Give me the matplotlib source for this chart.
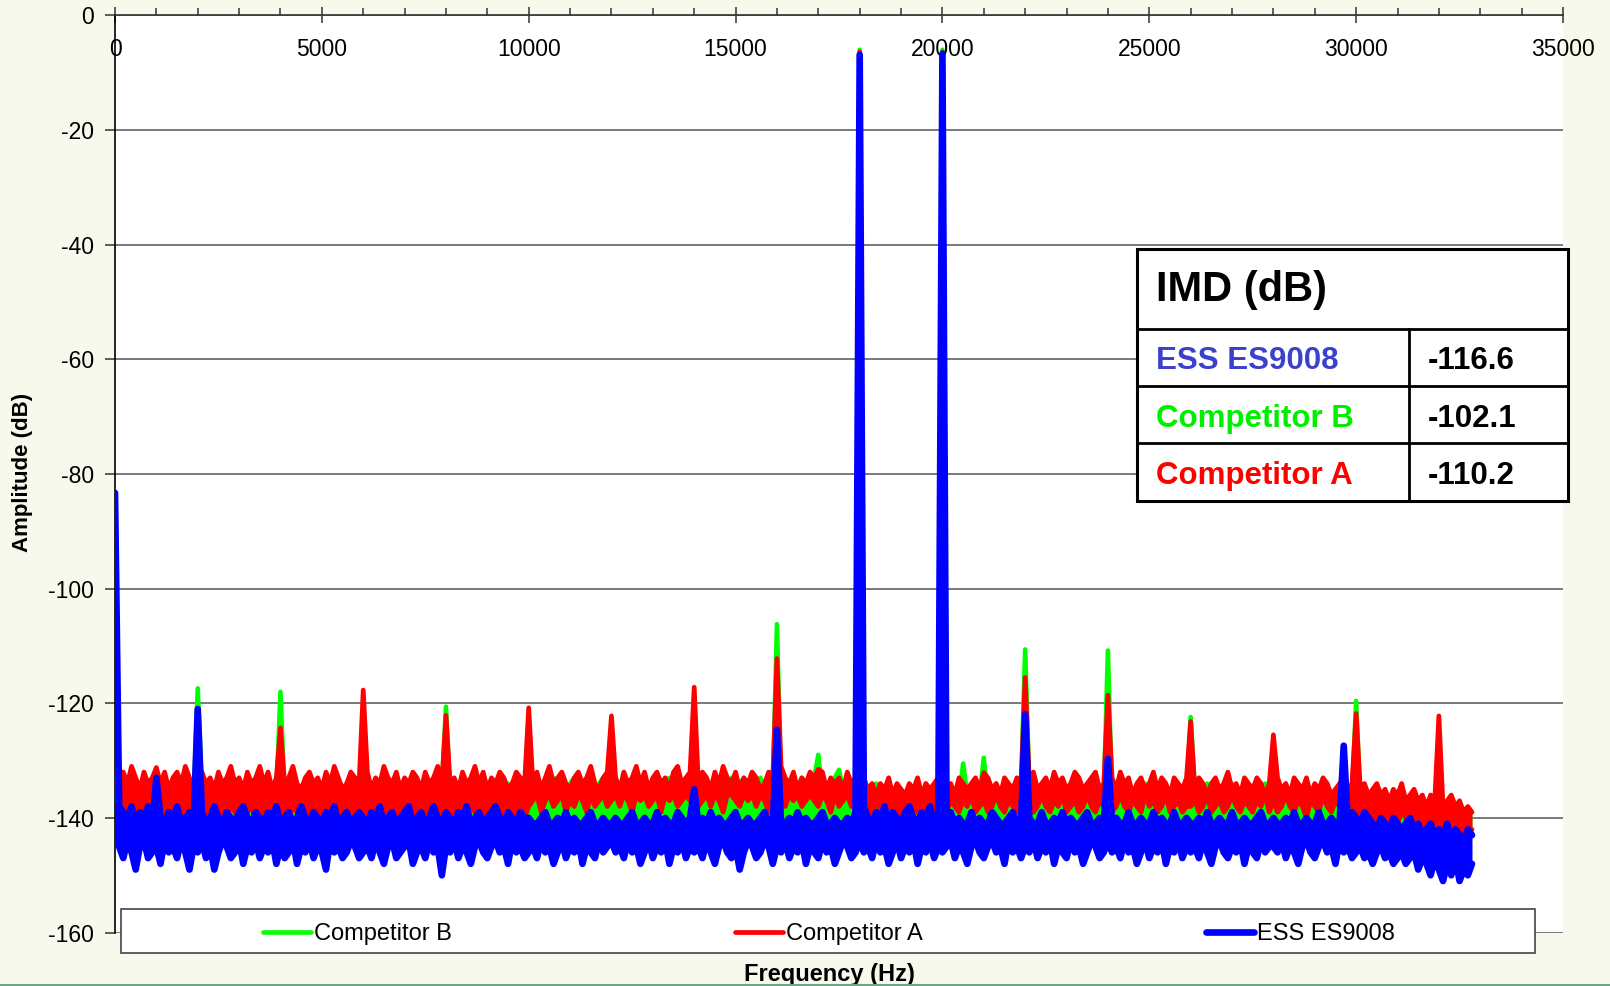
import numpy as np
import matplotlib
matplotlib.use("Agg")
import matplotlib.pyplot as plt
from matplotlib.patches import Rectangle
from matplotlib.lines import Line2D
from matplotlib.ticker import MultipleLocator

plt.rcParams['font.family'] = ['Liberation Sans', 'DejaVu Sans']
plt.rcParams['axes.unicode_minus'] = False

# ---------------- data ----------------
series_names = ['Competitor B', 'Competitor A', 'ESS ES9008']
series_colors = ['#00ff00', '#ff0000', '#0000ff']

imd_labels = ['ESS ES9008', 'Competitor B', 'Competitor A']
imd_values = ['-116.6', '-102.1', '-110.2']
imd_colors = ['#3b41cc', '#00ee00', '#ff0000']

bin_hz = 100  # spacing of the read-off envelope points (Hz), starting at 0 Hz

# Competitor B: upper / lower edge of the noise band (dB)
b_upper = [
    -132, -135, -136, -134, -137, -135, -136, -134, -137, -136, -135, -137, -134, -136, -135, -137, -136, -134, -135, -137,
    -136, -135, -137, -134, -136, -135, -137, -136, -134, -135, -137, -136, -135, -134, -137, -136, -135, -137, -134, -136,
    -135, -137, -136, -134, -135, -137, -136, -135, -134, -137, -136, -135, -137, -134, -136, -135, -137, -136, -134, -135,
    -136, -135, -137, -134, -136, -137, -135, -134, -136, -137, -135, -136, -134, -137, -135, -136, -134, -137, -136, -135,
    -135, -136, -134, -137, -135, -136, -134, -135, -137, -136, -135, -134, -136, -135, -137, -134, -136, -135, -134, -136,
    -134, -135, -133, -136, -134, -135, -133, -134, -136, -135, -134, -133, -135, -134, -136, -133, -135, -134, -133, -135,
    -134, -133, -135, -134, -136, -133, -134, -135, -133, -136, -134, -133, -135, -134, -133, -136, -134, -135, -133, -134,
    -135, -134, -133, -136, -134, -135, -133, -134, -136, -133, -135, -134, -133, -135, -136, -134, -133, -135, -134, -136,
    -134, -135, -133, -136, -134, -135, -133, -134, -135, -133, -134, -136, -134, -135, -133, -134, -135, -136, -134, -135,
    -136, -135, -137, -136, -134, -136, -137, -135, -136, -137, -135, -136, -137, -135, -136, -137, -134, -136, -135, -137,
    -136, -137, -135, -136, -137, -135, -136, -134, -137, -136, -135, -137, -136, -134, -136, -137, -135, -136, -137, -135,
    -136, -135, -137, -136, -134, -136, -137, -135, -136, -134, -137, -136, -135, -137, -136, -134, -136, -137, -135, -136,
    -135, -137, -136, -134, -136, -137, -135, -136, -137, -134, -136, -135, -137, -136, -134, -137, -136, -135, -137, -136,
    -136, -135, -137, -136, -134, -137, -136, -135, -137, -136, -134, -136, -137, -135, -136, -137, -135, -136, -134, -137,
    -135, -137, -136, -134, -136, -137, -135, -136, -138, -135, -136, -137, -134, -136, -137, -135, -136, -138, -135, -136,
    -136, -137, -138, -136, -137, -138, -136, -137, -139, -137, -138, -136, -137, -139, -138, -137, -139, -138, -137, -139,
    -138, -139, -138, -140, -139, -138, -140, -139, -139,
]
b_lower = [
    -138, -141, -140, -142, -141, -140, -142, -141, -140, -142, -141, -140, -141, -142, -140, -141, -142, -140, -141, -142,
    -141, -140, -142, -141, -140, -142, -141, -140, -141, -142, -140, -141, -142, -140, -141, -142, -141, -140, -142, -141,
    -140, -142, -141, -140, -142, -141, -140, -141, -142, -140, -141, -142, -140, -141, -142, -141, -140, -142, -141, -140,
    -142, -141, -140, -142, -141, -140, -141, -142, -140, -141, -142, -140, -141, -142, -141, -140, -142, -141, -140, -142,
    -141, -140, -142, -141, -140, -142, -141, -140, -141, -142, -140, -141, -142, -140, -141, -142, -141, -140, -142, -141,
    -140, -141, -142, -140, -141, -142, -141, -140, -142, -141, -140, -141, -142, -140, -141, -142, -140, -141, -142, -141,
    -141, -140, -142, -141, -140, -142, -141, -140, -141, -142, -140, -141, -142, -140, -141, -142, -141, -140, -142, -141,
    -140, -142, -141, -140, -142, -141, -140, -141, -142, -140, -141, -142, -140, -141, -142, -141, -140, -142, -141, -140,
    -142, -141, -140, -142, -141, -140, -141, -142, -140, -141, -142, -140, -141, -142, -141, -140, -142, -141, -140, -142,
    -141, -140, -142, -141, -140, -142, -141, -140, -141, -142, -140, -141, -142, -140, -141, -142, -141, -140, -142, -141,
    -140, -141, -142, -140, -141, -142, -141, -140, -142, -141, -140, -141, -142, -140, -141, -142, -140, -141, -142, -141,
    -141, -140, -142, -141, -140, -142, -141, -140, -141, -142, -140, -141, -142, -140, -141, -142, -141, -140, -142, -141,
    -140, -142, -141, -140, -142, -141, -140, -141, -142, -140, -141, -142, -140, -141, -142, -141, -140, -142, -141, -140,
    -142, -141, -140, -142, -141, -140, -141, -142, -140, -141, -142, -140, -141, -142, -141, -140, -142, -141, -140, -142,
    -141, -140, -142, -141, -140, -142, -141, -140, -141, -142, -140, -141, -142, -140, -141, -142, -141, -140, -142, -141,
    -141, -142, -143, -141, -142, -143, -142, -141, -143, -142, -141, -143, -142, -143, -141, -142, -143, -142, -143, -142,
    -143, -142, -143, -144, -142, -143, -144, -143, -143,
]

# Competitor A: upper / lower edge of the noise band (dB)
a_upper = [
    -131, -133, -132, -134, -131, -133, -135, -132, -134, -133, -131, -134, -132, -135, -133, -132, -134, -131, -133, -135,
    -133, -132, -134, -133, -135, -132, -134, -133, -131, -134, -133, -135, -132, -134, -133, -131, -134, -132, -135, -133,
    -132, -134, -133, -131, -134, -135, -133, -132, -134, -133, -135, -132, -134, -131, -133, -135, -134, -132, -133, -134,
    -133, -132, -135, -133, -134, -131, -133, -134, -132, -135, -133, -134, -132, -133, -135, -132, -134, -133, -131, -134,
    -132, -134, -133, -135, -132, -134, -133, -131, -134, -132, -135, -133, -134, -132, -133, -135, -134, -132, -133, -134,
    -133, -134, -132, -135, -133, -131, -134, -133, -132, -134, -135, -133, -132, -134, -133, -131, -134, -135, -133, -132,
    -134, -133, -135, -132, -134, -133, -131, -134, -132, -135, -133, -132, -134, -133, -135, -132, -131, -134, -133, -132,
    -133, -134, -132, -133, -135, -132, -134, -131, -133, -134, -132, -135, -133, -134, -132, -133, -135, -134, -132, -133,
    -132, -131, -133, -134, -132, -135, -133, -134, -132, -133, -134, -132, -135, -133, -134, -133, -135, -132, -134, -133,
    -134, -133, -135, -134, -136, -134, -135, -133, -136, -134, -135, -136, -134, -135, -133, -136, -134, -135, -134, -133,
    -134, -135, -134, -136, -133, -134, -135, -134, -133, -135, -134, -133, -135, -134, -136, -133, -134, -135, -133, -134,
    -133, -134, -132, -135, -134, -133, -135, -132, -134, -133, -135, -134, -132, -133, -135, -134, -133, -132, -135, -134,
    -134, -133, -135, -132, -134, -133, -136, -134, -133, -135, -134, -132, -135, -133, -134, -136, -133, -134, -135, -133,
    -134, -135, -133, -134, -136, -134, -133, -135, -134, -132, -135, -134, -136, -133, -134, -135, -133, -134, -136, -134,
    -134, -133, -135, -134, -136, -133, -134, -135, -133, -136, -134, -135, -133, -134, -136, -135, -134, -133, -135, -134,
    -134, -135, -134, -136, -135, -134, -136, -135, -137, -135, -136, -134, -137, -136, -135, -137, -136, -138, -136, -137,
    -136, -138, -137, -136, -138, -137, -139, -138, -139,
]
a_lower = [
    -136, -139, -140, -138, -141, -139, -140, -138, -141, -140, -139, -141, -138, -140, -139, -141, -140, -138, -139, -141,
    -140, -139, -141, -138, -140, -139, -141, -140, -138, -139, -141, -140, -139, -138, -141, -140, -139, -141, -138, -140,
    -139, -141, -140, -138, -139, -141, -140, -139, -138, -141, -140, -139, -141, -138, -140, -139, -141, -140, -138, -139,
    -140, -139, -141, -138, -140, -141, -139, -138, -140, -141, -139, -140, -138, -141, -139, -140, -138, -141, -140, -139,
    -139, -140, -138, -141, -139, -140, -138, -139, -141, -140, -139, -138, -140, -139, -141, -138, -140, -139, -138, -140,
    -138, -137, -136, -139, -137, -136, -138, -137, -136, -139, -137, -138, -136, -137, -139, -136, -138, -137, -136, -138,
    -137, -136, -138, -136, -137, -139, -136, -137, -136, -138, -137, -136, -139, -136, -137, -136, -138, -137, -136, -137,
    -136, -138, -137, -136, -138, -136, -137, -139, -136, -136, -137, -138, -136, -137, -136, -138, -136, -137, -139, -136,
    -137, -136, -138, -136, -137, -136, -138, -137, -136, -137, -138, -136, -137, -139, -136, -138, -137, -136, -138, -137,
    -139, -138, -140, -139, -137, -139, -140, -138, -139, -141, -138, -139, -140, -138, -139, -140, -137, -139, -138, -140,
    -138, -139, -137, -138, -139, -137, -138, -136, -139, -138, -137, -139, -138, -136, -138, -139, -137, -138, -139, -137,
    -138, -137, -139, -138, -136, -138, -139, -137, -138, -136, -139, -138, -137, -139, -138, -136, -138, -139, -137, -138,
    -137, -139, -138, -136, -138, -139, -137, -138, -139, -136, -138, -137, -139, -138, -136, -139, -138, -137, -139, -138,
    -138, -137, -139, -138, -136, -139, -138, -137, -139, -138, -136, -138, -139, -137, -138, -139, -137, -138, -136, -139,
    -137, -139, -138, -136, -138, -139, -137, -138, -140, -137, -138, -139, -136, -138, -139, -137, -138, -140, -137, -138,
    -139, -140, -141, -139, -140, -141, -139, -140, -142, -140, -141, -139, -140, -142, -141, -140, -142, -141, -140, -142,
    -141, -142, -141, -143, -142, -141, -143, -142, -142,
]

# ESS ES9008: upper / lower edge of the noise band (dB)
ess_upper = [
    -136, -138, -139, -140, -138, -141, -139, -140, -138, -141, -139, -140, -141, -139, -140, -138, -141, -140, -139, -141,
    -140, -139, -141, -140, -138, -140, -141, -139, -140, -141, -139, -138, -140, -141, -139, -140, -141, -139, -140, -138,
    -141, -140, -139, -141, -140, -138, -140, -141, -139, -140, -141, -139, -140, -138, -141, -140, -139, -141, -140, -139,
    -140, -141, -139, -140, -138, -141, -140, -139, -141, -140, -139, -138, -141, -140, -139, -141, -140, -138, -140, -141,
    -139, -140, -141, -139, -140, -138, -141, -140, -139, -141, -140, -139, -138, -140, -141, -139, -140, -141, -139, -140,
    -140, -141, -141, -140, -139, -141, -141, -140, -141, -139, -141, -140, -141, -141, -140, -139, -141, -141, -140, -141,
    -141, -140, -141, -141, -140, -139, -141, -141, -140, -141, -141, -139, -141, -140, -141, -141, -139, -140, -141, -140,
    -141, -141, -140, -141, -139, -141, -140, -141, -141, -140, -139, -141, -141, -140, -141, -141, -140, -139, -141, -141,
    -140, -141, -141, -140, -141, -139, -141, -140, -141, -141, -140, -139, -141, -141, -140, -141, -141, -140, -141, -139,
    -139, -138, -140, -141, -139, -140, -138, -141, -139, -140, -141, -139, -138, -140, -141, -139, -140, -138, -141, -140,
    -140, -141, -139, -141, -140, -141, -141, -139, -141, -140, -141, -141, -139, -140, -141, -141, -140, -139, -141, -141,
    -141, -140, -141, -141, -139, -141, -141, -140, -141, -139, -141, -140, -141, -141, -140, -139, -141, -141, -140, -141,
    -141, -141, -140, -141, -141, -139, -141, -141, -140, -141, -141, -139, -141, -140, -141, -141, -139, -141, -141, -140,
    -141, -141, -140, -141, -139, -141, -141, -140, -141, -141, -139, -141, -141, -140, -141, -141, -140, -139, -141, -141,
    -140, -141, -141, -140, -141, -139, -141, -141, -140, -141, -141, -139, -141, -141, -140, -141, -141, -140, -141, -139,
    -140, -141, -139, -140, -141, -142, -140, -141, -142, -140, -141, -142, -141, -140, -142, -141, -143, -142, -141, -143,
    -142, -143, -141, -144, -142, -143, -144, -142, -143,
]
ess_lower = [
    -138, -145, -147, -144, -146, -149, -145, -144, -147, -146, -145, -148, -144, -146, -145, -147, -144, -146, -149, -145,
    -146, -144, -147, -145, -149, -146, -144, -145, -147, -146, -144, -148, -145, -146, -144, -147, -145, -146, -144, -148,
    -145, -147, -146, -144, -148, -145, -146, -144, -147, -145, -146, -149, -144, -146, -145, -147, -146, -144, -145, -147,
    -146, -145, -147, -144, -146, -148, -145, -144, -147, -146, -145, -144, -148, -146, -145, -147, -144, -146, -145, -150,
    -145, -146, -144, -147, -145, -146, -148, -145, -144, -146, -147, -145, -144, -146, -145, -148, -144, -146, -145, -147,
    -146, -145, -147, -144, -146, -145, -148, -146, -144, -147, -145, -146, -144, -148, -145, -146, -147, -144, -146, -145,
    -144, -146, -145, -147, -144, -146, -145, -148, -146, -144, -147, -145, -146, -144, -148, -145, -146, -144, -147, -145,
    -146, -145, -147, -144, -146, -148, -145, -144, -146, -147, -145, -149, -146, -144, -145, -147, -146, -144, -145, -148,
    -145, -146, -144, -147, -145, -146, -144, -148, -145, -146, -147, -144, -146, -145, -148, -146, -144, -145, -147, -146,
    -144, -146, -145, -147, -144, -146, -145, -148, -146, -144, -147, -145, -146, -144, -148, -145, -146, -144, -147, -145,
    -146, -145, -144, -147, -145, -146, -148, -145, -144, -146, -147, -145, -144, -146, -145, -148, -144, -146, -145, -147,
    -145, -146, -144, -147, -145, -146, -144, -148, -145, -146, -147, -144, -146, -145, -148, -146, -144, -145, -147, -146,
    -144, -146, -145, -147, -144, -146, -145, -148, -146, -144, -147, -145, -146, -144, -148, -145, -146, -144, -147, -145,
    -146, -145, -147, -144, -146, -148, -145, -144, -146, -147, -145, -146, -144, -148, -145, -146, -147, -144, -146, -145,
    -145, -146, -144, -147, -145, -146, -148, -145, -144, -146, -147, -145, -144, -146, -145, -148, -144, -146, -145, -147,
    -146, -145, -147, -146, -148, -146, -145, -147, -146, -148, -147, -146, -148, -147, -146, -149, -147, -148, -150, -147,
    -149, -151, -148, -150, -147, -151, -149, -150, -148,
]

# spectral lines (Hz: peak dB)
spikes_b = {2000: -117.4, 4000: -118.0, 8000: -120.6, 16000: -106.2, 17000: -129.0,
            17500: -131.6, 18000: -6.0, 20000: -6.0, 20500: -130.5, 21000: -129.5,
            22000: -110.6, 24000: -110.8, 26000: -122.4, 30000: -119.6}
spikes_a = {1000: -131.2, 4000: -124.3, 6000: -117.7, 8000: -122.1, 10000: -120.8,
            12000: -122.2, 14000: -117.2, 16000: -112.2, 17000: -131.5, 18000: -6.4,
            20000: -6.4, 21000: -132.1, 22000: -115.5, 24000: -118.6, 26000: -123.2,
            28000: -125.5, 30000: -121.8, 32000: -122.2}
spikes_ess = {0: -83.3, 1000: -133.0, 2000: -121.0, 14000: -135.0, 16000: -124.6,
              18000: -6.9, 20000: -6.7, 22000: -121.9, 24000: -129.7, 29700: -127.4}


def build(upper, lower, spikes):
    n = min(len(upper), len(lower))
    up = np.array(upper[:n], dtype=float)
    lo = np.array(lower[:n], dtype=float)
    f = np.arange(n) * bin_hz
    for hz, val in spikes.items():
        up[int(round(hz / bin_hz))] = val
    return f, up, lo


series = [build(b_upper, b_lower, spikes_b),
          build(a_upper, a_lower, spikes_a),
          build(ess_upper, ess_lower, spikes_ess)]
line_widths = [3.3, 3.4, 4.8]

# ---------------- figure ----------------
W, H = 1610, 986
bg = '#f7f9ec'
fig = plt.figure(figsize=(W / 100, H / 100), dpi=100, facecolor=bg)


def fx(px):
    return px / W


def fy(py):
    return 1 - py / H


ax = fig.add_axes([fx(115), fy(932.6), fx(1563) - fx(115), fy(15.3) - fy(932.6)])
ax.set_facecolor('white')

handles = []
for k, ((f, up, lo), name, col, lw) in enumerate(zip(series, series_names, series_colors, line_widths)):
    z = 3 + k
    ax.fill_between(f, lo, up, color=col, lw=0, zorder=z)
    ln, = ax.plot(f, up, color=col, lw=lw, label=name, solid_joinstyle='round',
                  solid_capstyle='round', zorder=z)
    ax.plot(f, lo, color=col, lw=lw, solid_joinstyle='round',
            solid_capstyle='round', zorder=z)
    handles.append(ln)

ax.set_xlim(0, 35000)
ax.set_ylim(-160, 0)

# x axis drawn along the 0 dB line (top)
ax.spines['bottom'].set_position(('data', 0))
ax.spines['top'].set_visible(False)
ax.spines['right'].set_visible(False)
ax.spines['left'].set_linewidth(1.2)
ax.spines['bottom'].set_linewidth(1.2)
ax.spines['bottom'].set_color('#333333')
ax.spines['bottom'].set_zorder(10)

ax.set_xticks(np.arange(0, 35001, 5000))
ax.xaxis.set_minor_locator(MultipleLocator(1000))
ax.tick_params(axis='x', which='major', direction='inout', length=11, width=1.1,
               color='#333333', labelsize=16.5, pad=10.5)
ax.tick_params(axis='x', which='minor', direction='in', length=5, width=1.1, color='#333333')

ax.set_yticks(np.arange(-160, 1, 20))
ax.tick_params(axis='y', which='major', direction='out', length=7, width=1.1,
               color='#333333', labelsize=16.5, pad=8)

ax.yaxis.grid(True, color='#6e6e6e', lw=1.3, zorder=1)
ax.xaxis.grid(False)
ax.set_axisbelow(True)

ax.set_ylabel('Amplitude (dB)', fontsize=16, fontweight='bold')
ax.yaxis.label.set_va('center')
ax.yaxis.set_label_coords((22.6 - 115) / 1448, 0.502)

ax.set_xlabel('Frequency (Hz)', fontsize=17, fontweight='bold')
ax.xaxis.label.set_va('center')
ax.xaxis.set_label_coords((829 - 115) / 1448, (932.6 - 974) / 917.3)

# legend box
legend_box = Rectangle((fx(121), fy(953)), fx(1535) - fx(121), fy(909) - fy(953),
                       transform=fig.transFigure, facecolor='white', edgecolor='#444444',
                       lw=1.2, zorder=4)
fig.add_artist(legend_box)
fig.legend(handles=handles, labels=series_names, loc='center',
           bbox_to_anchor=(fx(829), fy(934)), ncol=3, frameon=False, fontsize=17,
           handlelength=2.03, handletextpad=0.13, columnspacing=12.0, borderaxespad=0,
           borderpad=0)

# IMD table
tx0, tx1, tcol = 1136.7, 1568, 1408.7
ty0, ty1 = 249.3, 500.7
row_lines = [329, 386, 443.3]
table_bg = Rectangle((fx(tx0), fy(ty1)), fx(tx1) - fx(tx0), fy(ty0) - fy(ty1),
                     transform=fig.transFigure, facecolor='white', edgecolor='black',
                     lw=2.2, zorder=6)
fig.add_artist(table_bg)
for ry in row_lines:
    fig.add_artist(Line2D([fx(tx0), fx(tx1)], [fy(ry), fy(ry)], transform=fig.transFigure,
                          color='black', lw=2.0, zorder=7))
fig.add_artist(Line2D([fx(tcol), fx(tcol)], [fy(row_lines[0]), fy(ty1)],
                      transform=fig.transFigure, color='black', lw=2.0, zorder=7))

fig.text(fx(1156), fy(300.5), 'IMD (dB)', fontsize=30, fontweight='bold', color='black',
         ha='left', va='baseline', zorder=8)
baselines = [369.3, 426.7, 484]
for lab, val, col, bl in zip(imd_labels, imd_values, imd_colors, baselines):
    fig.text(fx(1156), fy(bl), lab, fontsize=22.5, fontweight='bold', color=col,
             ha='left', va='baseline', zorder=8)
    fig.text(fx(1428), fy(bl), val, fontsize=22.5, fontweight='bold', color='black',
             ha='left', va='baseline', zorder=8)

# thin green rule at the very bottom
fig.add_artist(Line2D([0, 1], [fy(984.8), fy(984.8)], transform=fig.transFigure,
                      color='#6ca486', lw=2.2, zorder=9))

fig.savefig('out.png', dpi=100, facecolor=bg)
